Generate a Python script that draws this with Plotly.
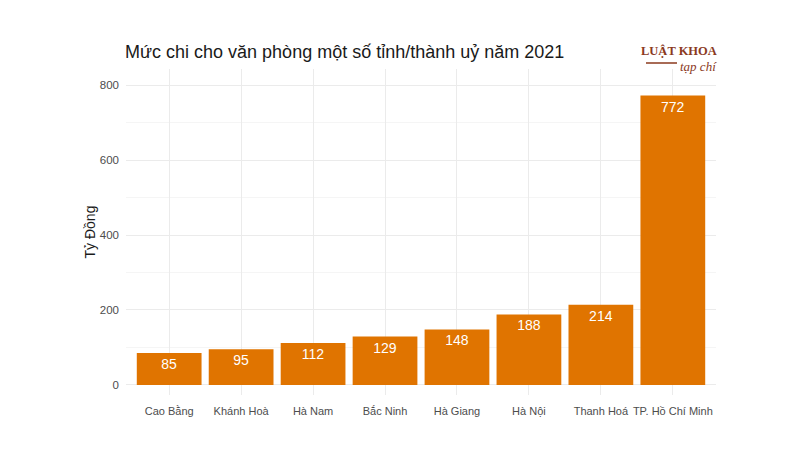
import plotly.graph_objects as go

categories = ["Cao Bằng", "Khánh Hoà", "Hà Nam", "Bắc Ninh", "Hà Giang", "Hà Nội", "Thanh Hoá", "TP. Hồ Chí Minh"]
values = [85, 95, 112, 129, 148, 188, 214, 772]
y_ticks = [0, 200, 400, 600, 800]

# page body has an 8px offset; layout values below compensate for it
OFF = 8
L, R, T, B = 126 - OFF, 716 - OFF, 69 - OFF, 395 - OFF
W, H = 800, 450
PW, PH = R - L, B - T

def px_x(x):
    return (x - OFF - L) / PW

def px_y(y):
    return (B - (y - OFF)) / PH

fig = go.Figure()
fig.add_trace(go.Bar(
    x=categories, y=values,
    marker=dict(color="#E07400", line=dict(width=0)),
    width=0.9,
    text=[str(v) for v in values],
    textposition="inside", insidetextanchor="end", textangle=0,
    textfont=dict(color="white", size=14, family="Liberation Sans, Arial, sans-serif"),
))

fig.update_layout(
    width=W, height=H,
    margin=dict(l=L, r=W - R, t=T, b=H - B),
    paper_bgcolor="white", plot_bgcolor="white",
    showlegend=False,
    font=dict(family="Liberation Sans, Arial, sans-serif", color="#4d4d4d"),
    title=dict(
        text="Mức chi cho văn phòng một số tỉnh/thành uỷ năm 2021",
        x=(125 - OFF) / W, xanchor="left", y=1 - (52 - OFF) / H, yanchor="middle",
        font=dict(size=18, color="#1a1a1a", family="Liberation Sans, Arial, sans-serif"),
    ),
    xaxis=dict(
        range=[-0.6, 7.6],
        showgrid=True, gridcolor="#EBEBEB", gridwidth=1,
        showline=False, zeroline=False, ticks="",
        tickangle=0, automargin=False,
        ticklabelstandoff=8,
        tickfont=dict(size=11, color="#4d4d4d"),
    ),
    yaxis=dict(
        range=[-27, 843],
        tickvals=y_ticks,
        showgrid=True, gridcolor="#EBEBEB", gridwidth=1,
        minor=dict(dtick=100, tick0=0, showgrid=True, gridcolor="#F5F5F5", gridwidth=1),
        showline=False, zeroline=False, ticks="",
        automargin=False,
        ticklabelstandoff=6,
        tickfont=dict(size=11.5, color="#4d4d4d"),
        title=dict(text="Tỷ Đồng", font=dict(size=14, color="#1a1a1a"), standoff=0),
    ),
)

fig.add_annotation(
    xref="paper", yref="paper", x=px_x(719), y=px_y(51),
    text="<b>LUẬT KHOA</b>", showarrow=False, xanchor="right", yanchor="middle",
    font=dict(family="Liberation Serif, DejaVu Serif, serif", size=12.5, color="#8B3A1E"),
)
fig.add_annotation(
    xref="paper", yref="paper", x=px_x(719), y=px_y(66),
    text="<i>tạp chí</i>", showarrow=False, xanchor="right", yanchor="middle",
    font=dict(family="Liberation Serif, DejaVu Serif, serif", size=13, color="#8B3A1E"),
)
fig.add_shape(
    type="line", xref="paper", yref="paper",
    x0=px_x(646), x1=px_x(677), y0=px_y(63), y1=px_y(63),
    line=dict(color="#8B3A1E", width=1.5),
)

fig.write_html("out.html")
